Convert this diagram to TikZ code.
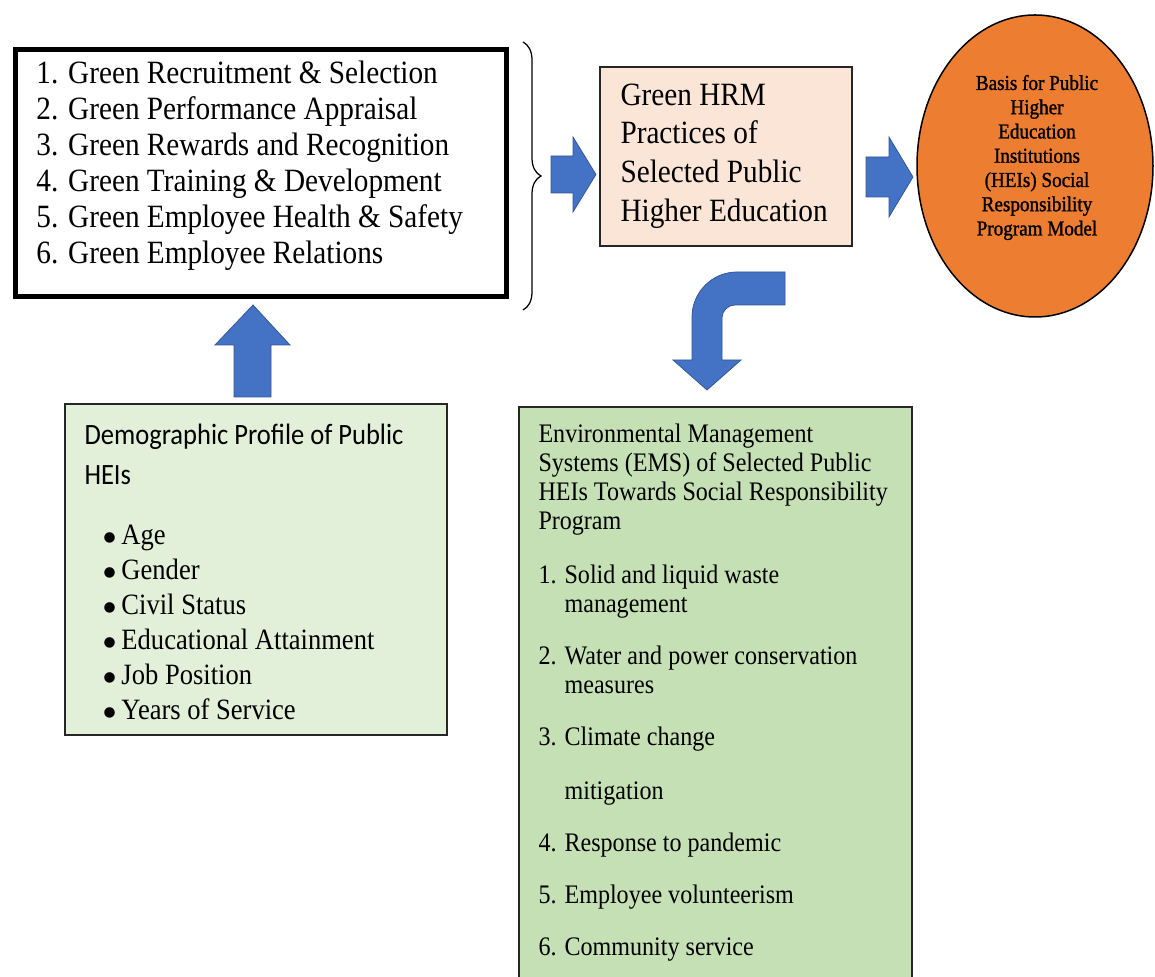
\documentclass[tikz,border=0pt]{standalone}
\usepackage{fontspec}
\setmainfont{Liberation Serif}[FakeStretch=0.9]
\newfontfamily\calibrisf{Carlito}[FakeStretch=0.9]
\newfontfamily\modelfont{Liberation Serif}[FakeStretch=0.9,FakeBold=1.2]
\newfontfamily\dotfont{DejaVu Sans}
\usetikzlibrary{shapes.geometric,decorations.pathreplacing}
\definecolor{arrowblue}{HTML}{4472C4}
\definecolor{hrmpeach}{HTML}{FBE5D6}
\definecolor{profilegreen}{HTML}{E2F0D9}
\definecolor{emsgreen}{HTML}{C5E0B4}
\definecolor{modelorange}{HTML}{ED7D31}
\newcommand{\dotitem}{\makebox[7.2pt][l]{\raisebox{1.3pt}{\dotfont\fontsize{5.5pt}{5.5pt}\selectfont ●}}}
\tikzset{
  practicebox/.style={draw=black,line width=2pt,fill=white,inner sep=0pt},
  plainbox/.style={draw=black!85,line width=0.6pt,inner sep=0pt},
  listtext/.style={anchor=north west,inner sep=0pt,align=left},
  blockarrow/.style={fill=arrowblue,draw=arrowblue!75!black,line width=0.3pt},
  bracket/.style={decorate,decoration={brace,amplitude=7.2pt},line width=0.5pt}
}
\begin{document}
\begin{tikzpicture}[x=0.4pt,y=-0.4pt]
  \useasboundingbox (0,0) rectangle (1155,977);
  % boxes
  \node[practicebox,minimum width=196.4pt,minimum height=98.8pt] (practices) at (261,173) {};
  \node[plainbox,fill=hrmpeach,minimum width=100.8pt,minimum height=71.6pt] (hrm) at (726,156.5) {};
  \node[plainbox,fill=profilegreen,minimum width=152.8pt,minimum height=132.4pt] (profile) at (256,569.5) {};
  \node[plainbox,fill=emsgreen,minimum width=157.2pt,minimum height=235.2pt] (ems) at (715.5,701) {};
  \node[ellipse,draw=black,line width=0.6pt,fill=modelorange,inner sep=0pt,
    minimum width=94.4pt,minimum height=120.8pt] (basis) at (1035,166) {};
  % texts
  \node[listtext,font=\fontsize{13pt}{14.4pt}\selectfont] (practicelist) at (36,60.5)
    {1. Green Recruitment \& Selection\\2. Green Performance Appraisal\\
     3. Green Rewards and Recognition\\4. Green Training \& Development\\
     5. Green Employee Health \& Safety\\6. Green Employee Relations};
  \node[listtext,font=\fontsize{13pt}{15.5pt}\selectfont] (hrmtext) at (620,83)
    {Green HRM\\Practices of\\Selected Public\\Higher Education};
  \node[align=center,inner sep=0pt,font=\modelfont\fontsize{8.5pt}{9.7pt}\selectfont] (basistext) at (1037,157.5)
    {Basis for Public\\Higher\\Education\\Institutions\\(HEIs) Social\\Responsibility\\Program Model};
  \node[listtext,font=\calibrisf\fontsize{11.8pt}{16pt}\selectfont] (profiletitle) at (84,424)
    {Demographic Profile of Public\\HEIs};
  \node[listtext,font=\fontsize{11.8pt}{14pt}\selectfont] (profilelist) at (103,524.5)
    {\dotitem Age\\\dotitem Gender\\\dotitem Civil Status\\
     \dotitem Educational Attainment\\\dotitem Job Position\\\dotitem Years of Service};
  \node[listtext,font=\fontsize{10.7pt}{11.6pt}\selectfont] (emstext) at (538,423)
    {Environmental Management\\Systems (EMS) of Selected Public\\HEIs Towards Social Responsibility\\Program\\[10pt]
     1. Solid and liquid waste\\\hphantom{1. }management\\[9.2pt]
     2. Water and power conservation\\\hphantom{2. }measures\\[9.2pt]
     3. Climate change\\[10pt]\hphantom{3. }mitigation\\[9.2pt]
     4. Response to pandemic\\[9.2pt]5. Employee volunteerism\\[9.2pt]6. Community service};
  % brace and block arrows
  \draw[bracket] (523,42) -- (523,310);
  \draw[blockarrow] (551,156) -- (573,156) -- (573,137) -- (596,174.5) -- (573,212) -- (573,193) -- (551,193) -- cycle;
  \draw[blockarrow] (866,157) -- (889,157) -- (889,137) -- (913,177) -- (889,217) -- (889,197) -- (866,197) -- cycle;
  \draw[blockarrow] (234,397) -- (234,345) -- (215,345) -- (253,305) -- (290,345) -- (271,345) -- (271,397) -- cycle;
  \draw[blockarrow] (785,272) -- (737,272) .. controls (712.2,272) and (692,292.2) .. (692,317) -- (692,360)
    -- (673,360) -- (707,390) -- (741,360) -- (722,360) -- (722,318)
    .. controls (722,310.8) and (727.8,305) .. (735,305) -- (785,305) -- cycle;
\end{tikzpicture}
\end{document}
